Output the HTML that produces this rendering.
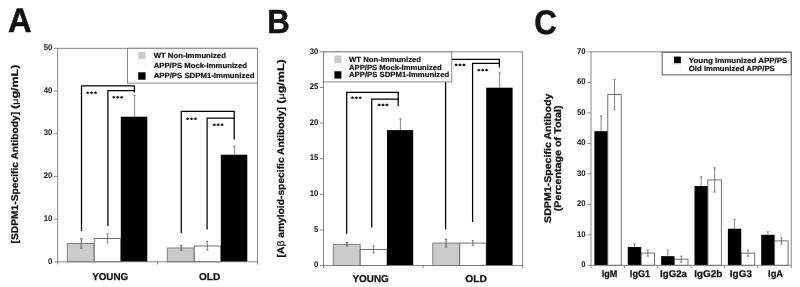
<!DOCTYPE html>
<html><head><meta charset="utf-8"><title>Figure</title>
<style>
html,body{margin:0;padding:0;background:#fff;}
body{width:800px;height:287px;overflow:hidden;font-family:"Liberation Sans",sans-serif;}
svg{display:block;}
svg text{font-family:"Liberation Sans",sans-serif;font-weight:bold;fill:#111;text-rendering:geometricPrecision;}
</style></head><body>
<div style="will-change:transform;width:800px;height:287px">
<svg width="800" height="287" viewBox="0 0 800 287">
<rect x="0" y="0" width="800" height="287" fill="#fff"/>
<text x="7.90" y="32.20" font-size="34.2" text-anchor="start" textLength="23.60" lengthAdjust="spacingAndGlyphs" stroke="#111" stroke-width="0.5">A</text>
<text x="267.30" y="32.90" font-size="33.6" text-anchor="start" textLength="22.60" lengthAdjust="spacingAndGlyphs" stroke="#111" stroke-width="0.5">B</text>
<text x="534.20" y="34.20" font-size="34.2" text-anchor="start" textLength="22.50" lengthAdjust="spacingAndGlyphs" stroke="#111" stroke-width="0.5">C</text>
<path d="M81.50,231.00 V85.90 H134.40 V92.50" fill="none" stroke="#000" stroke-width="1.25" stroke-linejoin="miter"/>
<path d="M107.90,226.00 V90.70 H134.40 V91.50" fill="none" stroke="#000" stroke-width="1.25" stroke-linejoin="miter"/>
<path d="M181.30,233.00 V111.30 H234.20 V139.50" fill="none" stroke="#000" stroke-width="1.25" stroke-linejoin="miter"/>
<path d="M207.10,229.50 V118.20 H234.20 V119.00" fill="none" stroke="#000" stroke-width="1.25" stroke-linejoin="miter"/>
<rect x="67.30" y="243.50" width="26.90" height="18.30" fill="#cbcbcb" stroke="#808080" stroke-width="1.0"/>
<rect x="94.20" y="238.50" width="26.60" height="23.30" fill="#fff" stroke="#585858" stroke-width="0.85"/>
<rect x="120.80" y="116.70" width="26.50" height="145.10" fill="#000"/>
<rect x="167.30" y="248.00" width="26.90" height="13.80" fill="#cbcbcb" stroke="#808080" stroke-width="1.0"/>
<rect x="194.20" y="246.00" width="26.60" height="15.80" fill="#fff" stroke="#585858" stroke-width="0.85"/>
<rect x="220.80" y="154.70" width="26.50" height="107.10" fill="#000"/>
<line x1="81.30" y1="238.80" x2="81.30" y2="248.20" stroke="#6a6a6a" stroke-width="1.1" />
<line x1="80.15" y1="238.80" x2="82.45" y2="238.80" stroke="#6a6a6a" stroke-width="1.1" />
<line x1="80.15" y1="248.20" x2="82.45" y2="248.20" stroke="#6a6a6a" stroke-width="1.1" />
<line x1="107.50" y1="233.80" x2="107.50" y2="242.80" stroke="#444" stroke-width="0.65" />
<line x1="106.35" y1="233.80" x2="108.65" y2="233.80" stroke="#444" stroke-width="0.65" />
<line x1="106.35" y1="242.80" x2="108.65" y2="242.80" stroke="#444" stroke-width="0.65" />
<line x1="134.60" y1="95.20" x2="134.60" y2="116.70" stroke="#444" stroke-width="0.65" />
<line x1="133.45" y1="95.20" x2="135.75" y2="95.20" stroke="#444" stroke-width="0.65" />
<line x1="181.30" y1="245.60" x2="181.30" y2="250.40" stroke="#6a6a6a" stroke-width="1.1" />
<line x1="180.15" y1="245.60" x2="182.45" y2="245.60" stroke="#6a6a6a" stroke-width="1.1" />
<line x1="180.15" y1="250.40" x2="182.45" y2="250.40" stroke="#6a6a6a" stroke-width="1.1" />
<line x1="207.30" y1="241.40" x2="207.30" y2="250.00" stroke="#444" stroke-width="0.65" />
<line x1="206.15" y1="241.40" x2="208.45" y2="241.40" stroke="#444" stroke-width="0.65" />
<line x1="206.15" y1="250.00" x2="208.45" y2="250.00" stroke="#444" stroke-width="0.65" />
<line x1="234.40" y1="146.00" x2="234.40" y2="154.70" stroke="#444" stroke-width="0.65" />
<line x1="233.25" y1="146.00" x2="235.55" y2="146.00" stroke="#444" stroke-width="0.65" />
<rect x="57.70" y="48.30" width="199.80" height="213.50" fill="none" stroke="#7a7a7a" stroke-width="0.9"/>
<line x1="54.00" y1="261.80" x2="57.70" y2="261.80" stroke="#7a7a7a" stroke-width="0.9" />
<text x="52.40" y="263.50" font-size="8.2" text-anchor="end" textLength="4.33" lengthAdjust="spacingAndGlyphs" >0</text>
<line x1="54.00" y1="219.10" x2="57.70" y2="219.10" stroke="#7a7a7a" stroke-width="0.9" />
<text x="52.40" y="220.80" font-size="8.2" text-anchor="end" textLength="8.66" lengthAdjust="spacingAndGlyphs" >10</text>
<line x1="54.00" y1="176.40" x2="57.70" y2="176.40" stroke="#7a7a7a" stroke-width="0.9" />
<text x="52.40" y="178.10" font-size="8.2" text-anchor="end" textLength="8.66" lengthAdjust="spacingAndGlyphs" >20</text>
<line x1="54.00" y1="133.70" x2="57.70" y2="133.70" stroke="#7a7a7a" stroke-width="0.9" />
<text x="52.40" y="135.40" font-size="8.2" text-anchor="end" textLength="8.66" lengthAdjust="spacingAndGlyphs" >30</text>
<line x1="54.00" y1="91.00" x2="57.70" y2="91.00" stroke="#7a7a7a" stroke-width="0.9" />
<text x="52.40" y="92.70" font-size="8.2" text-anchor="end" textLength="8.66" lengthAdjust="spacingAndGlyphs" >40</text>
<line x1="54.00" y1="48.30" x2="57.70" y2="48.30" stroke="#7a7a7a" stroke-width="0.9" />
<text x="52.40" y="50.00" font-size="8.2" text-anchor="end" textLength="8.66" lengthAdjust="spacingAndGlyphs" >50</text>
<line x1="57.70" y1="261.80" x2="57.70" y2="264.60" stroke="#7a7a7a" stroke-width="0.9" />
<line x1="157.60" y1="261.80" x2="157.60" y2="264.60" stroke="#7a7a7a" stroke-width="0.9" />
<line x1="257.50" y1="261.80" x2="257.50" y2="264.60" stroke="#7a7a7a" stroke-width="0.9" />
<circle cx="87.75" cy="92.80" r="1.15" fill="#1c1c1c"/>
<path d="M86.15,92.30 L89.35,93.30 M86.15,93.30 L89.35,92.30 M87.75,91.20 V94.00" stroke="#1c1c1c" stroke-width="0.55" fill="none"/>
<circle cx="91.65" cy="92.80" r="1.15" fill="#1c1c1c"/>
<path d="M90.05,92.30 L93.25,93.30 M90.05,93.30 L93.25,92.30 M91.65,91.20 V94.00" stroke="#1c1c1c" stroke-width="0.55" fill="none"/>
<circle cx="95.55" cy="92.80" r="1.15" fill="#1c1c1c"/>
<path d="M93.95,92.30 L97.15,93.30 M93.95,93.30 L97.15,92.30 M95.55,91.20 V94.00" stroke="#1c1c1c" stroke-width="0.55" fill="none"/>
<circle cx="113.85" cy="97.30" r="1.15" fill="#1c1c1c"/>
<path d="M112.25,96.80 L115.45,97.80 M112.25,97.80 L115.45,96.80 M113.85,95.70 V98.50" stroke="#1c1c1c" stroke-width="0.55" fill="none"/>
<circle cx="117.75" cy="97.30" r="1.15" fill="#1c1c1c"/>
<path d="M116.15,96.80 L119.35,97.80 M116.15,97.80 L119.35,96.80 M117.75,95.70 V98.50" stroke="#1c1c1c" stroke-width="0.55" fill="none"/>
<circle cx="121.65" cy="97.30" r="1.15" fill="#1c1c1c"/>
<path d="M120.05,96.80 L123.25,97.80 M120.05,97.80 L123.25,96.80 M121.65,95.70 V98.50" stroke="#1c1c1c" stroke-width="0.55" fill="none"/>
<circle cx="187.65" cy="118.80" r="1.15" fill="#1c1c1c"/>
<path d="M186.05,118.30 L189.25,119.30 M186.05,119.30 L189.25,118.30 M187.65,117.20 V120.00" stroke="#1c1c1c" stroke-width="0.55" fill="none"/>
<circle cx="191.55" cy="118.80" r="1.15" fill="#1c1c1c"/>
<path d="M189.95,118.30 L193.15,119.30 M189.95,119.30 L193.15,118.30 M191.55,117.20 V120.00" stroke="#1c1c1c" stroke-width="0.55" fill="none"/>
<circle cx="195.45" cy="118.80" r="1.15" fill="#1c1c1c"/>
<path d="M193.85,118.30 L197.05,119.30 M193.85,119.30 L197.05,118.30 M195.45,117.20 V120.00" stroke="#1c1c1c" stroke-width="0.55" fill="none"/>
<circle cx="214.25" cy="124.80" r="1.15" fill="#1c1c1c"/>
<path d="M212.65,124.30 L215.85,125.30 M212.65,125.30 L215.85,124.30 M214.25,123.20 V126.00" stroke="#1c1c1c" stroke-width="0.55" fill="none"/>
<circle cx="218.15" cy="124.80" r="1.15" fill="#1c1c1c"/>
<path d="M216.55,124.30 L219.75,125.30 M216.55,125.30 L219.75,124.30 M218.15,123.20 V126.00" stroke="#1c1c1c" stroke-width="0.55" fill="none"/>
<circle cx="222.05" cy="124.80" r="1.15" fill="#1c1c1c"/>
<path d="M220.45,124.30 L223.65,125.30 M220.45,125.30 L223.65,124.30 M222.05,123.20 V126.00" stroke="#1c1c1c" stroke-width="0.55" fill="none"/>
<rect x="127.50" y="48.30" width="130.00" height="34.80" fill="#fff" stroke="#7a7a7a" stroke-width="0.9"/>
<rect x="138.20" y="51.90" width="7.40" height="7.20" fill="#cbcbcb"/>
<rect x="138.20" y="61.90" width="7.40" height="7.20" fill="#fff" stroke="#e4e4e4" stroke-width="0.5"/>
<rect x="138.20" y="72.30" width="7.40" height="7.40" fill="#000"/>
<text x="153.70" y="58.00" font-size="7.4" text-anchor="start" textLength="72.20" lengthAdjust="spacingAndGlyphs" stroke="#111" stroke-width="0.2">WT Non-Immunized</text>
<text x="153.70" y="68.20" font-size="7.4" text-anchor="start" textLength="93.30" lengthAdjust="spacingAndGlyphs" stroke="#111" stroke-width="0.2">APP/PS Mock-Immunized</text>
<text x="153.70" y="78.30" font-size="7.4" text-anchor="start" textLength="100.80" lengthAdjust="spacingAndGlyphs" stroke="#111" stroke-width="0.2">APP/PS SDPM1-Immunized</text>
<text x="110.20" y="279.60" font-size="10" text-anchor="middle" textLength="36.00" lengthAdjust="spacingAndGlyphs" stroke="#111" stroke-width="0.25">YOUNG</text>
<text x="209.60" y="279.60" font-size="10" text-anchor="middle" textLength="21.20" lengthAdjust="spacingAndGlyphs" stroke="#111" stroke-width="0.25">OLD</text>
<text transform="translate(18.10,243.40) rotate(-90)" font-size="9.7" text-anchor="start" textLength="131.60" lengthAdjust="spacingAndGlyphs" stroke="#111" stroke-width="0.25">[SDPM1-Specific Antibody]</text>
<text transform="translate(18.10,108.90) rotate(-90)" font-size="9.7" text-anchor="start" textLength="44.30" lengthAdjust="spacingAndGlyphs" stroke="#111" stroke-width="0.25">(<tspan font-weight="normal" font-size="8.3">μ</tspan>g/mL)</text>
<path d="M346.70,233.80 V92.30 H398.20 V106.30" fill="none" stroke="#000" stroke-width="1.25" stroke-linejoin="miter"/>
<path d="M371.70,227.50 V99.10 H398.20 V100.00" fill="none" stroke="#000" stroke-width="1.25" stroke-linejoin="miter"/>
<path d="M445.60,229.30 V59.40 H499.40 V67.60" fill="none" stroke="#000" stroke-width="1.25" stroke-linejoin="miter"/>
<path d="M472.60,222.00 V63.40 H499.40 V64.00" fill="none" stroke="#000" stroke-width="1.25" stroke-linejoin="miter"/>
<rect x="333.30" y="244.40" width="26.90" height="21.10" fill="#cbcbcb" stroke="#808080" stroke-width="1.0"/>
<rect x="360.20" y="249.40" width="26.80" height="16.10" fill="#fff" stroke="#585858" stroke-width="0.85"/>
<rect x="387.00" y="130.10" width="26.20" height="135.40" fill="#000"/>
<rect x="432.80" y="243.10" width="26.90" height="22.40" fill="#cbcbcb" stroke="#808080" stroke-width="1.0"/>
<rect x="459.70" y="243.10" width="26.50" height="22.40" fill="#fff" stroke="#585858" stroke-width="0.85"/>
<rect x="486.20" y="87.70" width="26.40" height="177.80" fill="#000"/>
<line x1="347.00" y1="242.80" x2="347.00" y2="245.80" stroke="#6a6a6a" stroke-width="1.1" />
<line x1="345.85" y1="242.80" x2="348.15" y2="242.80" stroke="#6a6a6a" stroke-width="1.1" />
<line x1="345.85" y1="245.80" x2="348.15" y2="245.80" stroke="#6a6a6a" stroke-width="1.1" />
<line x1="373.60" y1="245.80" x2="373.60" y2="253.00" stroke="#444" stroke-width="0.65" />
<line x1="372.45" y1="245.80" x2="374.75" y2="245.80" stroke="#444" stroke-width="0.65" />
<line x1="372.45" y1="253.00" x2="374.75" y2="253.00" stroke="#444" stroke-width="0.65" />
<line x1="400.40" y1="118.80" x2="400.40" y2="130.10" stroke="#444" stroke-width="0.65" />
<line x1="399.25" y1="118.80" x2="401.55" y2="118.80" stroke="#444" stroke-width="0.65" />
<line x1="446.10" y1="239.30" x2="446.10" y2="246.90" stroke="#6a6a6a" stroke-width="1.1" />
<line x1="444.95" y1="239.30" x2="447.25" y2="239.30" stroke="#6a6a6a" stroke-width="1.1" />
<line x1="444.95" y1="246.90" x2="447.25" y2="246.90" stroke="#6a6a6a" stroke-width="1.1" />
<line x1="472.80" y1="240.60" x2="472.80" y2="245.60" stroke="#444" stroke-width="0.65" />
<line x1="471.65" y1="240.60" x2="473.95" y2="240.60" stroke="#444" stroke-width="0.65" />
<line x1="471.65" y1="245.60" x2="473.95" y2="245.60" stroke="#444" stroke-width="0.65" />
<line x1="499.60" y1="73.00" x2="499.60" y2="87.70" stroke="#444" stroke-width="0.65" />
<line x1="498.45" y1="73.00" x2="500.75" y2="73.00" stroke="#444" stroke-width="0.65" />
<rect x="323.50" y="51.90" width="199.10" height="213.60" fill="none" stroke="#7a7a7a" stroke-width="0.9"/>
<line x1="319.80" y1="265.50" x2="323.50" y2="265.50" stroke="#7a7a7a" stroke-width="0.9" />
<text x="318.40" y="267.20" font-size="8.2" text-anchor="end" textLength="4.33" lengthAdjust="spacingAndGlyphs" >0</text>
<line x1="319.80" y1="229.90" x2="323.50" y2="229.90" stroke="#7a7a7a" stroke-width="0.9" />
<text x="318.40" y="231.60" font-size="8.2" text-anchor="end" textLength="4.33" lengthAdjust="spacingAndGlyphs" >5</text>
<line x1="319.80" y1="194.30" x2="323.50" y2="194.30" stroke="#7a7a7a" stroke-width="0.9" />
<text x="318.40" y="196.00" font-size="8.2" text-anchor="end" textLength="8.66" lengthAdjust="spacingAndGlyphs" >10</text>
<line x1="319.80" y1="158.70" x2="323.50" y2="158.70" stroke="#7a7a7a" stroke-width="0.9" />
<text x="318.40" y="160.40" font-size="8.2" text-anchor="end" textLength="8.66" lengthAdjust="spacingAndGlyphs" >15</text>
<line x1="319.80" y1="123.10" x2="323.50" y2="123.10" stroke="#7a7a7a" stroke-width="0.9" />
<text x="318.40" y="124.80" font-size="8.2" text-anchor="end" textLength="8.66" lengthAdjust="spacingAndGlyphs" >20</text>
<line x1="319.80" y1="87.50" x2="323.50" y2="87.50" stroke="#7a7a7a" stroke-width="0.9" />
<text x="318.40" y="89.20" font-size="8.2" text-anchor="end" textLength="8.66" lengthAdjust="spacingAndGlyphs" >25</text>
<line x1="319.80" y1="51.90" x2="323.50" y2="51.90" stroke="#7a7a7a" stroke-width="0.9" />
<text x="318.40" y="53.60" font-size="8.2" text-anchor="end" textLength="8.66" lengthAdjust="spacingAndGlyphs" >30</text>
<line x1="323.50" y1="265.50" x2="323.50" y2="268.30" stroke="#7a7a7a" stroke-width="0.9" />
<line x1="423.05" y1="265.50" x2="423.05" y2="268.30" stroke="#7a7a7a" stroke-width="0.9" />
<line x1="522.60" y1="265.50" x2="522.60" y2="268.30" stroke="#7a7a7a" stroke-width="0.9" />
<circle cx="352.35" cy="97.80" r="1.15" fill="#1c1c1c"/>
<path d="M350.75,97.30 L353.95,98.30 M350.75,98.30 L353.95,97.30 M352.35,96.20 V99.00" stroke="#1c1c1c" stroke-width="0.55" fill="none"/>
<circle cx="356.25" cy="97.80" r="1.15" fill="#1c1c1c"/>
<path d="M354.65,97.30 L357.85,98.30 M354.65,98.30 L357.85,97.30 M356.25,96.20 V99.00" stroke="#1c1c1c" stroke-width="0.55" fill="none"/>
<circle cx="360.15" cy="97.80" r="1.15" fill="#1c1c1c"/>
<path d="M358.55,97.30 L361.75,98.30 M358.55,98.30 L361.75,97.30 M360.15,96.20 V99.00" stroke="#1c1c1c" stroke-width="0.55" fill="none"/>
<circle cx="379.15" cy="105.00" r="1.15" fill="#1c1c1c"/>
<path d="M377.55,104.50 L380.75,105.50 M377.55,105.50 L380.75,104.50 M379.15,103.40 V106.20" stroke="#1c1c1c" stroke-width="0.55" fill="none"/>
<circle cx="383.05" cy="105.00" r="1.15" fill="#1c1c1c"/>
<path d="M381.45,104.50 L384.65,105.50 M381.45,105.50 L384.65,104.50 M383.05,103.40 V106.20" stroke="#1c1c1c" stroke-width="0.55" fill="none"/>
<circle cx="386.95" cy="105.00" r="1.15" fill="#1c1c1c"/>
<path d="M385.35,104.50 L388.55,105.50 M385.35,105.50 L388.55,104.50 M386.95,103.40 V106.20" stroke="#1c1c1c" stroke-width="0.55" fill="none"/>
<circle cx="456.15" cy="65.00" r="1.15" fill="#1c1c1c"/>
<path d="M454.55,64.50 L457.75,65.50 M454.55,65.50 L457.75,64.50 M456.15,63.40 V66.20" stroke="#1c1c1c" stroke-width="0.55" fill="none"/>
<circle cx="460.05" cy="65.00" r="1.15" fill="#1c1c1c"/>
<path d="M458.45,64.50 L461.65,65.50 M458.45,65.50 L461.65,64.50 M460.05,63.40 V66.20" stroke="#1c1c1c" stroke-width="0.55" fill="none"/>
<circle cx="463.95" cy="65.00" r="1.15" fill="#1c1c1c"/>
<path d="M462.35,64.50 L465.55,65.50 M462.35,65.50 L465.55,64.50 M463.95,63.40 V66.20" stroke="#1c1c1c" stroke-width="0.55" fill="none"/>
<circle cx="478.85" cy="70.20" r="1.15" fill="#1c1c1c"/>
<path d="M477.25,69.70 L480.45,70.70 M477.25,70.70 L480.45,69.70 M478.85,68.60 V71.40" stroke="#1c1c1c" stroke-width="0.55" fill="none"/>
<circle cx="482.75" cy="70.20" r="1.15" fill="#1c1c1c"/>
<path d="M481.15,69.70 L484.35,70.70 M481.15,70.70 L484.35,69.70 M482.75,68.60 V71.40" stroke="#1c1c1c" stroke-width="0.55" fill="none"/>
<circle cx="486.65" cy="70.20" r="1.15" fill="#1c1c1c"/>
<path d="M485.05,69.70 L488.25,70.70 M485.05,70.70 L488.25,69.70 M486.65,68.60 V71.40" stroke="#1c1c1c" stroke-width="0.55" fill="none"/>
<rect x="323.50" y="51.90" width="128.30" height="30.00" fill="#fff" stroke="#7a7a7a" stroke-width="0.9"/>
<rect x="334.40" y="55.60" width="7.00" height="7.40" fill="#cbcbcb"/>
<rect x="334.40" y="63.40" width="7.00" height="7.20" fill="#fff" stroke="#e4e4e4" stroke-width="0.5"/>
<rect x="334.40" y="71.30" width="7.00" height="7.30" fill="#000"/>
<text x="349.00" y="62.20" font-size="7.4" text-anchor="start" textLength="72.00" lengthAdjust="spacingAndGlyphs" stroke="#111" stroke-width="0.2">WT Non-Immunized</text>
<text x="349.00" y="69.80" font-size="7.4" text-anchor="start" textLength="92.80" lengthAdjust="spacingAndGlyphs" stroke="#111" stroke-width="0.2">APP/PS Mock-Immunized</text>
<text x="349.00" y="77.30" font-size="7.4" text-anchor="start" textLength="100.20" lengthAdjust="spacingAndGlyphs" stroke="#111" stroke-width="0.2">APP/PS SDPM1-Immunized</text>
<text x="370.60" y="282.40" font-size="10" text-anchor="middle" textLength="36.40" lengthAdjust="spacingAndGlyphs" stroke="#111" stroke-width="0.25">YOUNG</text>
<text x="476.10" y="282.40" font-size="10" text-anchor="middle" textLength="21.60" lengthAdjust="spacingAndGlyphs" stroke="#111" stroke-width="0.25">OLD</text>
<text transform="translate(283.60,257.40) rotate(-90)" font-size="9.7" text-anchor="start" textLength="150.40" lengthAdjust="spacingAndGlyphs" stroke="#111" stroke-width="0.25">[A<tspan font-weight="normal">β</tspan> amyloid-specific Antibody]</text>
<text transform="translate(283.60,103.70) rotate(-90)" font-size="9.7" text-anchor="start" textLength="44.40" lengthAdjust="spacingAndGlyphs" stroke="#111" stroke-width="0.25">(<tspan font-weight="normal" font-size="8.3">μ</tspan>g/mL)</text>
<rect x="594.40" y="131.16" width="13.40" height="134.14" fill="#000"/>
<rect x="607.80" y="94.58" width="13.45" height="170.72" fill="#fff" stroke="#585858" stroke-width="0.85"/>
<line x1="601.10" y1="115.92" x2="601.10" y2="131.16" stroke="#444" stroke-width="0.65" />
<line x1="599.95" y1="115.92" x2="602.25" y2="115.92" stroke="#444" stroke-width="0.65" />
<line x1="614.52" y1="79.34" x2="614.52" y2="109.82" stroke="#444" stroke-width="0.65" />
<line x1="613.38" y1="79.34" x2="615.67" y2="79.34" stroke="#444" stroke-width="0.65" />
<line x1="613.38" y1="109.82" x2="615.67" y2="109.82" stroke="#444" stroke-width="0.65" />
<rect x="627.77" y="247.01" width="13.40" height="18.29" fill="#000"/>
<rect x="641.17" y="253.11" width="13.45" height="12.19" fill="#fff" stroke="#585858" stroke-width="0.85"/>
<line x1="634.47" y1="243.96" x2="634.47" y2="247.01" stroke="#444" stroke-width="0.65" />
<line x1="633.32" y1="243.96" x2="635.62" y2="243.96" stroke="#444" stroke-width="0.65" />
<line x1="647.89" y1="250.06" x2="647.89" y2="256.15" stroke="#444" stroke-width="0.65" />
<line x1="646.74" y1="250.06" x2="649.04" y2="250.06" stroke="#444" stroke-width="0.65" />
<line x1="646.74" y1="256.15" x2="649.04" y2="256.15" stroke="#444" stroke-width="0.65" />
<rect x="661.13" y="256.15" width="13.40" height="9.15" fill="#000"/>
<rect x="674.53" y="259.20" width="13.45" height="6.10" fill="#fff" stroke="#585858" stroke-width="0.85"/>
<line x1="667.83" y1="250.06" x2="667.83" y2="256.15" stroke="#444" stroke-width="0.65" />
<line x1="666.68" y1="250.06" x2="668.98" y2="250.06" stroke="#444" stroke-width="0.65" />
<line x1="681.26" y1="256.15" x2="681.26" y2="262.25" stroke="#444" stroke-width="0.65" />
<line x1="680.11" y1="256.15" x2="682.41" y2="256.15" stroke="#444" stroke-width="0.65" />
<line x1="680.11" y1="262.25" x2="682.41" y2="262.25" stroke="#444" stroke-width="0.65" />
<rect x="694.50" y="186.04" width="13.40" height="79.26" fill="#000"/>
<rect x="707.90" y="179.94" width="13.45" height="85.36" fill="#fff" stroke="#585858" stroke-width="0.85"/>
<line x1="701.20" y1="176.89" x2="701.20" y2="186.04" stroke="#444" stroke-width="0.65" />
<line x1="700.05" y1="176.89" x2="702.35" y2="176.89" stroke="#444" stroke-width="0.65" />
<line x1="714.62" y1="167.75" x2="714.62" y2="192.13" stroke="#444" stroke-width="0.65" />
<line x1="713.48" y1="167.75" x2="715.77" y2="167.75" stroke="#444" stroke-width="0.65" />
<line x1="713.48" y1="192.13" x2="715.77" y2="192.13" stroke="#444" stroke-width="0.65" />
<rect x="727.87" y="228.72" width="13.40" height="36.58" fill="#000"/>
<rect x="741.27" y="253.11" width="13.45" height="12.19" fill="#fff" stroke="#585858" stroke-width="0.85"/>
<line x1="734.57" y1="219.57" x2="734.57" y2="228.72" stroke="#444" stroke-width="0.65" />
<line x1="733.42" y1="219.57" x2="735.72" y2="219.57" stroke="#444" stroke-width="0.65" />
<line x1="747.99" y1="250.06" x2="747.99" y2="256.15" stroke="#444" stroke-width="0.65" />
<line x1="746.84" y1="250.06" x2="749.14" y2="250.06" stroke="#444" stroke-width="0.65" />
<line x1="746.84" y1="256.15" x2="749.14" y2="256.15" stroke="#444" stroke-width="0.65" />
<rect x="761.23" y="234.81" width="13.40" height="30.49" fill="#000"/>
<rect x="774.63" y="240.91" width="13.45" height="24.39" fill="#fff" stroke="#585858" stroke-width="0.85"/>
<line x1="767.93" y1="231.77" x2="767.93" y2="234.81" stroke="#444" stroke-width="0.65" />
<line x1="766.78" y1="231.77" x2="769.08" y2="231.77" stroke="#444" stroke-width="0.65" />
<line x1="781.36" y1="237.86" x2="781.36" y2="243.96" stroke="#444" stroke-width="0.65" />
<line x1="780.21" y1="237.86" x2="782.51" y2="237.86" stroke="#444" stroke-width="0.65" />
<line x1="780.21" y1="243.96" x2="782.51" y2="243.96" stroke="#444" stroke-width="0.65" />
<rect x="591.00" y="51.90" width="200.20" height="213.40" fill="none" stroke="#7a7a7a" stroke-width="0.9"/>
<line x1="587.30" y1="265.30" x2="591.00" y2="265.30" stroke="#7a7a7a" stroke-width="0.9" />
<text x="585.70" y="267.00" font-size="8.2" text-anchor="end" textLength="4.33" lengthAdjust="spacingAndGlyphs" >0</text>
<line x1="587.30" y1="234.81" x2="591.00" y2="234.81" stroke="#7a7a7a" stroke-width="0.9" />
<text x="585.70" y="236.51" font-size="8.2" text-anchor="end" textLength="8.66" lengthAdjust="spacingAndGlyphs" >10</text>
<line x1="587.30" y1="204.33" x2="591.00" y2="204.33" stroke="#7a7a7a" stroke-width="0.9" />
<text x="585.70" y="206.03" font-size="8.2" text-anchor="end" textLength="8.66" lengthAdjust="spacingAndGlyphs" >20</text>
<line x1="587.30" y1="173.84" x2="591.00" y2="173.84" stroke="#7a7a7a" stroke-width="0.9" />
<text x="585.70" y="175.54" font-size="8.2" text-anchor="end" textLength="8.66" lengthAdjust="spacingAndGlyphs" >30</text>
<line x1="587.30" y1="143.36" x2="591.00" y2="143.36" stroke="#7a7a7a" stroke-width="0.9" />
<text x="585.70" y="145.06" font-size="8.2" text-anchor="end" textLength="8.66" lengthAdjust="spacingAndGlyphs" >40</text>
<line x1="587.30" y1="112.87" x2="591.00" y2="112.87" stroke="#7a7a7a" stroke-width="0.9" />
<text x="585.70" y="114.57" font-size="8.2" text-anchor="end" textLength="8.66" lengthAdjust="spacingAndGlyphs" >50</text>
<line x1="587.30" y1="82.39" x2="591.00" y2="82.39" stroke="#7a7a7a" stroke-width="0.9" />
<text x="585.70" y="84.09" font-size="8.2" text-anchor="end" textLength="8.66" lengthAdjust="spacingAndGlyphs" >60</text>
<line x1="587.30" y1="51.90" x2="591.00" y2="51.90" stroke="#7a7a7a" stroke-width="0.9" />
<text x="585.70" y="53.60" font-size="8.2" text-anchor="end" textLength="8.66" lengthAdjust="spacingAndGlyphs" >70</text>
<line x1="591.00" y1="265.30" x2="591.00" y2="268.10" stroke="#7a7a7a" stroke-width="0.9" />
<line x1="624.37" y1="265.30" x2="624.37" y2="268.10" stroke="#7a7a7a" stroke-width="0.9" />
<line x1="657.73" y1="265.30" x2="657.73" y2="268.10" stroke="#7a7a7a" stroke-width="0.9" />
<line x1="691.10" y1="265.30" x2="691.10" y2="268.10" stroke="#7a7a7a" stroke-width="0.9" />
<line x1="724.47" y1="265.30" x2="724.47" y2="268.10" stroke="#7a7a7a" stroke-width="0.9" />
<line x1="757.83" y1="265.30" x2="757.83" y2="268.10" stroke="#7a7a7a" stroke-width="0.9" />
<line x1="791.20" y1="265.30" x2="791.20" y2="268.10" stroke="#7a7a7a" stroke-width="0.9" />
<text x="609.50" y="277.00" font-size="9.8" text-anchor="middle" textLength="15.60" lengthAdjust="spacingAndGlyphs" stroke="#111" stroke-width="0.25">IgM</text>
<text x="640.00" y="277.00" font-size="9.8" text-anchor="middle" textLength="20.30" lengthAdjust="spacingAndGlyphs" stroke="#111" stroke-width="0.25">IgG1</text>
<text x="673.50" y="277.00" font-size="9.8" text-anchor="middle" textLength="27.00" lengthAdjust="spacingAndGlyphs" stroke="#111" stroke-width="0.25">IgG2a</text>
<text x="708.30" y="277.00" font-size="9.8" text-anchor="middle" textLength="28.10" lengthAdjust="spacingAndGlyphs" stroke="#111" stroke-width="0.25">IgG2b</text>
<text x="740.90" y="277.00" font-size="9.8" text-anchor="middle" textLength="22.10" lengthAdjust="spacingAndGlyphs" stroke="#111" stroke-width="0.25">IgG3</text>
<text x="775.60" y="277.00" font-size="9.8" text-anchor="middle" textLength="15.00" lengthAdjust="spacingAndGlyphs" stroke="#111" stroke-width="0.25">IgA</text>
<rect x="662.20" y="52.30" width="129.00" height="22.60" fill="#fff" stroke="#666" stroke-width="1.1"/>
<rect x="674.00" y="56.60" width="6.90" height="6.60" fill="#000"/>
<rect x="674.00" y="64.50" width="6.90" height="6.60" fill="#fff" stroke="#e4e4e4" stroke-width="0.5"/>
<text x="688.80" y="62.50" font-size="7.4" text-anchor="start" textLength="98.60" lengthAdjust="spacingAndGlyphs" stroke="#111" stroke-width="0.2">Young Immunized APP/PS</text>
<text x="688.80" y="70.60" font-size="7.4" text-anchor="start" textLength="86.00" lengthAdjust="spacingAndGlyphs" stroke="#111" stroke-width="0.2">Old Immunized APP/PS</text>
<text transform="translate(550.70,158.30) rotate(-90)" font-size="9.7" text-anchor="middle" textLength="129.30" lengthAdjust="spacingAndGlyphs" stroke="#111" stroke-width="0.25">SDPM1-Specific Antibody</text>
<text transform="translate(560.70,158.40) rotate(-90)" font-size="9.7" text-anchor="middle" textLength="105.80" lengthAdjust="spacingAndGlyphs" stroke="#111" stroke-width="0.25">(Percentage of Total)</text>
</svg>
</div>
</body></html>
